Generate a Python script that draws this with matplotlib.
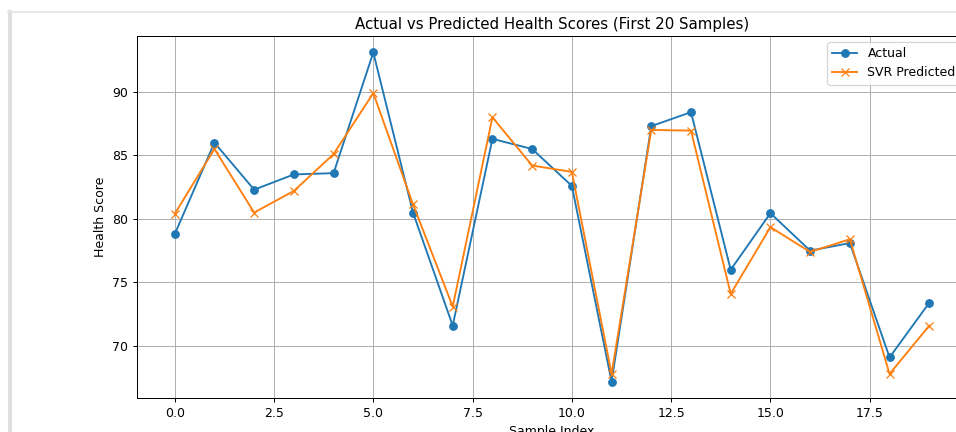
import matplotlib
matplotlib.use("Agg")
import matplotlib.pyplot as plt
from matplotlib.lines import Line2D

# first 20 samples
sample_idx = list(range(20))
actual = [78.8, 86.0, 82.3, 83.5, 83.6, 93.1, 80.5, 71.6, 86.3, 85.5,
          82.6, 67.2, 87.3, 88.4, 76.0, 80.45, 77.5, 78.1, 69.1, 73.4]
svr_pred = [80.4, 85.5, 80.5, 82.2, 85.1, 89.9, 81.15, 73.1, 88.0, 84.2,
            83.7, 67.8, 87.0, 86.95, 74.1, 79.35, 77.4, 78.4, 67.8, 71.6]

# screenshot is a scaled-down notebook figure, so render at 90 dpi
DPI = 90
W, H = 956, 432
fig = plt.figure(figsize=(W / DPI, H / DPI), dpi=DPI)

# notebook output frame (light grey edges of the cell)
fig.add_artist(Line2D([9.5 / W, 9.5 / W], [0, 1 - 12 / H],
                      transform=fig.transFigure, color="#dcdcdc", lw=3))
fig.add_artist(Line2D([8 / W, 1], [1 - 12 / H, 1 - 12 / H],
                      transform=fig.transFigure, color="#e6e6e6", lw=1.5))

# axes is wider than the visible area, right side gets cut like the screenshot
ax = fig.add_axes([137 / W, 34 / H, 830 / W, 362 / H])

ax.plot(sample_idx, actual, marker="o", label="Actual")
ax.plot(sample_idx, svr_pred, marker="x", label="SVR Predicted")

ax.set_title("Actual vs Predicted Health Scores (First 20 Samples)")
ax.set_xlabel("Sample Index")
ax.set_ylabel("Health Score")
ax.legend(loc="upper right")
ax.grid(True)
# right spine lies past the crop in the screenshot
ax.spines["right"].set_visible(False)

fig.savefig("out.png", dpi=DPI)
